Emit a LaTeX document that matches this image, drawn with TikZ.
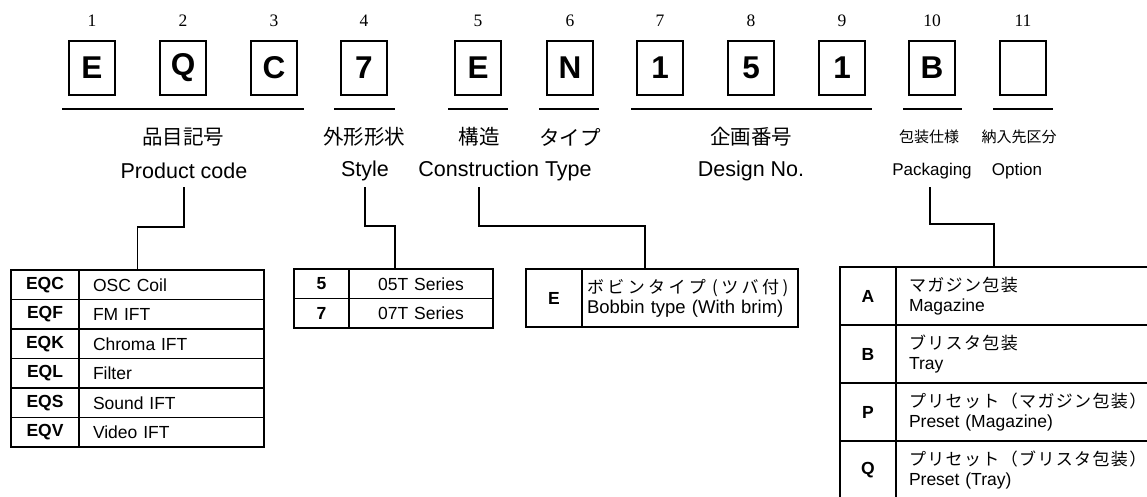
\documentclass[tikz,border=0pt]{standalone}
\usepackage{fontspec}
\setmainfont{Liberation Serif}
\setsansfont{Liberation Sans}
\newfontfamily\jpf{Noto Sans CJK JP}
\newfontfamily\jpsp{Noto Sans CJK JP}[LetterSpace=8]
\newfontfamily\jpwide{Noto Sans CJK JP}[LetterSpace=20]
\usetikzlibrary{calc}
\begin{document}
\begin{tikzpicture}[x=1pt,y=-1pt,
  charbox/.style={draw, line width=1.7pt, minimum width=46pt, minimum height=54pt, inner sep=0pt,
    font=\sffamily\bfseries\fontsize{31.5}{32}\selectfont},
  num/.style={inner sep=0pt, font=\fontsize{17.5}{18}\selectfont},
  jplab/.style={inner sep=0pt, font=\jpf\fontsize{20.5}{22}\selectfont},
  jpsmall/.style={inner sep=0pt, font=\jpf\fontsize{15}{16}\selectfont},
  enlab/.style={inner sep=0pt, font=\sffamily\fontsize{21.5}{22}\selectfont},
  ensmall/.style={inner sep=0pt, font=\sffamily\fontsize{17}{18}\selectfont},
  uline/.style={line width=1.5pt},
  conn/.style={line width=1.3pt},
  cell/.style={draw, line width=1.4pt, inner sep=0pt, outer sep=0pt, anchor=north west},
  codecell/.style={cell, font=\sffamily\bfseries\fontsize{17.5}{18}\selectfont},
  desccell/.style={cell, align=left, font=\sffamily\fontsize{17.5}{20}\selectfont},
  ctrcell/.style={cell, align=center, font=\sffamily\fontsize{17.5}{20}\selectfont},
]
\useasboundingbox (0,0) rectangle (1147,496);
\clip (0,0) rectangle (1147,496);
\fill[white] (0,0) rectangle (1147,496);

% position numbers
\node[num] (n1) at (92,21) {1};
\node[num] (n2) at (183,21) {2};
\node[num] (n3) at (274,21) {3};
\node[num] (n4) at (364,21) {4};
\node[num] (n5) at (478,21) {5};
\node[num] (n6) at (570,21) {6};
\node[num] (n7) at (660,21) {7};
\node[num] (n8) at (751,21) {8};
\node[num] (n9) at (842,21) {9};
\node[num] (n10) at (932,21) {10};
\node[num] (n11) at (1023,21) {11};

% character boxes
\node[charbox] (b1) at (92,68) {E};
\node[charbox] (b2) at (183,68) {Q};
\node[charbox] (b3) at (274,68) {C};
\node[charbox] (b4) at (364,68) {7};
\node[charbox] (b5) at (478,68) {E};
\node[charbox] (b6) at (570,68) {N};
\node[charbox] (b7) at (660,68) {1};
\node[charbox] (b8) at (751,68) {5};
\node[charbox] (b9) at (842,68) {1};
\node[charbox] (b10) at (932,68) {B};
\node[charbox] (b11) at (1023,68) {};

% underlines
\draw[uline] (62,109) -- (304,109);
\draw[uline] (334,109) -- (395,109);
\draw[uline] (448,109) -- (508,109);
\draw[uline] (539,109) -- (599,109);
\draw[uline] (631,109) -- (872,109);
\draw[uline] (903,109) -- (962,109);
\draw[uline] (993,109) -- (1053,109);

% labels
\node[jplab] (jp1) at (183,137) {品目記号};
\node[enlab] (en1) at (184,171) {Product code};
\node[jplab] (jp2) at (364,137) {外形形状};
\node[enlab] (en2) at (365,171) {Style};
\node[jplab] (jp3) at (479,137) {構造};
\node[jplab] (jp4) at (570,137) {タイプ};
\node[enlab] (en3) at (505,171) {Construction Type};
\node[jplab] (jp5) at (751,137) {企画番号};
\node[enlab] (en5) at (751,171) {Design No.};
\node[jpsmall] (jp6) at (929,137) {包装仕様};
\node[jpsmall] (jp7) at (1019,137) {納入先区分};
\node[ensmall] (en6) at (932,171) {Packaging};
\node[ensmall] (en7) at (1017,171) {Option};

% product code table
\node[codecell, minimum width=68pt, minimum height=29.5pt] (q1) at (11,270) {EQC};
\node[desccell, text width=157pt, inner xsep=14pt, minimum height=29.5pt] (q1d) at (79,270) {OSC Coil};
\node[codecell, minimum width=68pt, minimum height=29.5pt] (q2) at (11,299.5) {EQF};
\node[desccell, text width=157pt, inner xsep=14pt, minimum height=29.5pt] (q2d) at (79,299.5) {FM IFT};
\node[codecell, minimum width=68pt, minimum height=29.5pt] (q3) at (11,329) {EQK};
\node[desccell, text width=157pt, inner xsep=14pt, minimum height=29.5pt] (q3d) at (79,329) {Chroma IFT};
\node[codecell, minimum width=68pt, minimum height=29.5pt] (q4) at (11,358.5) {EQL};
\node[desccell, text width=157pt, inner xsep=14pt, minimum height=29.5pt] (q4d) at (79,358.5) {Filter};
\node[codecell, minimum width=68pt, minimum height=29.5pt] (q5) at (11,388) {EQS};
\node[desccell, text width=157pt, inner xsep=14pt, minimum height=29.5pt] (q5d) at (79,388) {Sound IFT};
\node[codecell, minimum width=68pt, minimum height=29.5pt] (q6) at (11,417.5) {EQV};
\node[desccell, text width=157pt, inner xsep=14pt, minimum height=29.5pt] (q6d) at (79,417.5) {Video IFT};

% style table
\node[codecell, minimum width=55pt, minimum height=29.5pt] (s1) at (294,269) {5};
\node[ctrcell, text width=144pt, minimum height=29.5pt] (s1d) at (349,269) {05T Series};
\node[codecell, minimum width=55pt, minimum height=29.5pt] (s2) at (294,298.5) {7};
\node[ctrcell, text width=144pt, minimum height=29.5pt] (s2d) at (349,298.5) {07T Series};

% construction table
\node[codecell, minimum width=56pt, minimum height=58pt] (c1) at (526,269) {E};
\node[desccell, text width=206pt, inner xsep=5pt, minimum height=58pt, font=\sffamily\fontsize{18.5}{20}\selectfont] (c1d) at (582,269)
  {{\jpwide\fontsize{17}{20}\selectfont ボビンタイプ (ツバ付)}\\Bobbin type (With brim)};

% packaging table
\node[codecell, minimum width=56pt, minimum height=58pt] (p1) at (840,267) {A};
\node[desccell, text width=300pt, inner xsep=13pt, minimum height=58pt] (p1d) at (896,267)
  {{\jpsp\fontsize{17}{20}\selectfont マガジン包装}\\Magazine};
\node[codecell, minimum width=56pt, minimum height=58pt] (p2) at (840,325) {B};
\node[desccell, text width=300pt, inner xsep=13pt, minimum height=58pt] (p2d) at (896,325)
  {{\jpsp\fontsize{17}{20}\selectfont ブリスタ包装}\\Tray};
\node[codecell, minimum width=56pt, minimum height=58pt] (p3) at (840,383) {P};
\node[desccell, text width=300pt, inner xsep=13pt, minimum height=58pt] (p3d) at (896,383)
  {{\jpsp\fontsize{17}{20}\selectfont プリセット（マガジン包装）}\\Preset (Magazine)};
\node[codecell, minimum width=56pt, minimum height=58pt] (p4) at (840,441) {Q};
\node[desccell, text width=300pt, inner xsep=13pt, minimum height=58pt] (p4d) at (896,441)
  {{\jpsp\fontsize{17}{20}\selectfont プリセット（ブリスタ包装）}\\Preset (Tray)};

% connectors
\coordinate (k1s) at (184,187);
\coordinate (k1e) at ($(q1.north west)!0.5!(q1d.north east)$);
\coordinate (k2s) at (365,187);
\coordinate (k2e) at (395,269);
\coordinate (k3s) at (479,187);
\coordinate (k3e) at (645,269);
\coordinate (k4s) at (930,187);
\coordinate (k4e) at (994,267);
\draw[conn] (k1s) -- ++(0,40) -| (k1e);
\draw[conn] (k2s) -- ++(0,39) -| (k2e);
\draw[conn] (k3s) -- ++(0,39) -| (k3e);
\draw[conn] (k4s) -- ++(0,37) -| (k4e);
\end{tikzpicture}
\end{document}
